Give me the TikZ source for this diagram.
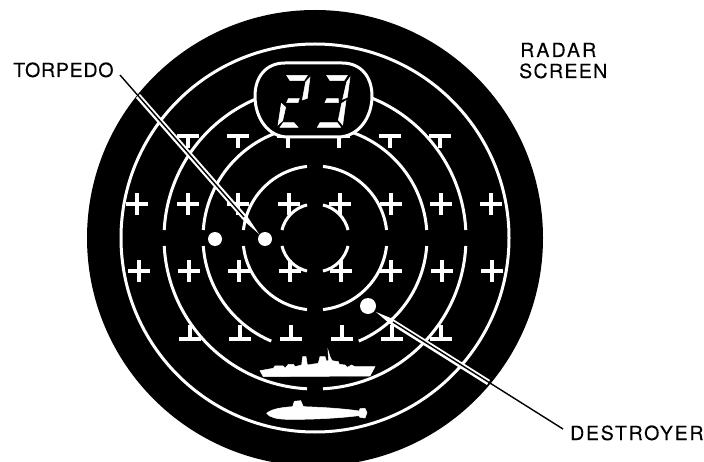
\documentclass[tikz,border=0pt]{standalone}
\usepackage{fontspec}
\setmainfont[FakeBold=0.12]{TeX Gyre Heros}
\tikzset{
  ring/.style={draw=white,line width=3pt},
  gridmark/.style={draw=white,line width=3.4pt},
  blip/.style={fill=white,draw=none},
  glyph/.style={fill=white,draw=white,line width=0.5pt},
  halo/.style={fill=white,draw=none},
  leader/.style={draw=black,line width=1.4pt},
  lbl/.style={inner sep=0pt,anchor=base west,text=black,font=\fontsize{19.5}{22}\selectfont}
}
\newcommand{\plusat}[2]{\draw[gridmark] (#1-11,#2)--(#1+11,#2) (#1,#2-11)--(#1,#2+11);}
\newcommand{\teeat}[2]{\draw[gridmark] (#1-11,#2)--(#1+11,#2) (#1,#2)--(#1,#2+12);}
\newcommand{\intee}[2]{\draw[gridmark] (#1-11,#2)--(#1+11,#2) (#1,#2)--(#1,#2-14);}
\newcommand{\ringarc}[3]{\draw[ring] (315,238) ++(#2:#1) arc[start angle=#2,end angle=#3,radius=#1];}
\begin{document}
\begin{tikzpicture}[x=1pt,y=-1pt]
\useasboundingbox (0,0) rectangle (704,462);
\begin{scope}
\clip (0,0) rectangle (704,462);
\fill[black] (315,238) circle (228);
\end{scope}
% outer ring
\draw[ring] (315,238) circle (194);
% split rings (y axis points down, so positive angles are the lower half)
\foreach \r in {151,72,34}{
  \pgfmathsetmacro{\a}{asin(8/\r)}
  \pgfmathsetmacro{\qa}{90-\a}
  \pgfmathsetmacro{\ra}{90+\a}
  \pgfmathsetmacro{\sa}{180-\a}
  \pgfmathsetmacro{\ta}{180+\a}
  \pgfmathsetmacro{\ua}{270-\a}
  \pgfmathsetmacro{\va}{270+\a}
  \pgfmathsetmacro{\wa}{360-\a}
  \ringarc{\r}{\a}{\qa}
  \ringarc{\r}{\ra}{\sa}
  \ringarc{\r}{\ta}{\ua}
  \ringarc{\r}{\va}{\wa}
}
% ring 112 has a wide lower gap for the ship
\ringarc{112}{4.1}{67}
\ringarc{112}{113}{175.9}
\ringarc{112}{184.1}{268}
\ringarc{112}{272}{355.9}
% marks
\foreach \x in {137,188,238,289,340,391,441,491}{\plusat{\x}{204}}
\foreach \x in {139,189,239,290,341,391,442,492}{\plusat{\x}{271}}
\foreach \x in {188,238,288,339,390,440}{\teeat{\x}{136}}
\foreach \x in {190,240,291,342,392,441}{\intee{\x}{339}}
% display
\draw[draw=white,line width=3pt,fill=black] (285,63) -- (342,63)
  .. controls (362,63) and (372,78) .. (372,96)
  .. controls (372,118) and (358,137) .. (338,137)
  -- (288,137)
  .. controls (268,137) and (255,118) .. (255,96)
  .. controls (255,78) and (265,63) .. (285,63) -- cycle;
% digits
\begin{scope}[shift={(270,70)},x=0.3333pt,y=-0.3333pt]
\fill[glyph] (50,16)--(112,16)--(102,32)--(60,32)--cycle;
\fill[glyph] (107,36)--(120,22)--(112,85)--(97,90)--cycle;
\fill[glyph] (55,86)--(88,86)--(84,98)--(50,98)--cycle;
\fill[glyph] (34,100)--(47,112)--(38,152)--(24,165)--cycle;
\fill[glyph] (40,158)--(72,158)--(84,172)--(30,172)--cycle;
\fill[glyph] (170,16)--(232,16)--(222,32)--(180,32)--cycle;
\fill[glyph] (230,36)--(240,22)--(232,82)--(218,88)--cycle;
\fill[glyph] (170,86)--(205,86)--(205,98)--(165,98)--cycle;
\fill[glyph] (215,100)--(228,92)--(218,165)--(205,150)--cycle;
\fill[glyph] (150,158)--(202,158)--(212,172)--(142,172)--cycle;
\end{scope}
% ship and submarine
\begin{scope}[shift={(230,330)},x=0.3333pt,y=-0.3333pt]
\filldraw[glyph] (90,122)--(130,115)--(135,108)--(160,108)--(165,115)--(175,103)--(190,103)--(195,110)--(215,105)--(218,80)--(228,80)--(232,105)--(265,100)--(270,80)--(285,80)--(290,95)--(296,90)--(294,60)--(300,80)--(306,92)--(325,95)--(328,103)--(345,105)--(352,112)--(365,105)--(375,110)--(435,110)--(420,138)--(100,140)--cycle;
\filldraw[glyph] (110,250) .. controls (125,236) and (160,232) .. (188,230)
  --(193,214)--(212,212)--(220,230)
  .. controls (280,232) and (340,236) .. (388,243)
  --(390,236)--(405,235)--(411,248)--(405,264)--(390,262)--(386,257)
  .. controls (330,264) and (250,269) .. (170,268)
  .. controls (140,267) and (118,262) .. (110,250) -- cycle;
\end{scope}
% blips
\fill[blip] (215,239) circle (7) (265,239) circle (7) (368,306) circle (8);
\coordinate (torpTail) at (120,75);
\coordinate (torpTip) at (259,234);
\coordinate (destTail) at (563,429);
\coordinate (destTip) at (376,312);
% leader lines with white halo inside the black disc
\fill[halo] (136,98) -- (140,94) -- (247,216) -- (torpTip) -- (243,220) -- cycle;
\draw[leader] (torpTail) -- (244,217);
\fill[halo] (487,385) -- (490,380) -- (393,319) -- (destTip) -- (390,324) -- cycle;
\draw[leader] (destTail) -- (393,322);
% labels
\node[lbl] (torpedo) at (13,77) {\addfontfeature{LetterSpace=4}TORPEDO};
\node[lbl] (radar) at (520,57) {\addfontfeature{LetterSpace=11}RADAR};
\node[lbl] (screen) at (519,78) {\addfontfeature{LetterSpace=7}SCREEN};
\node[lbl] (destroyer) at (570,440) {\addfontfeature{LetterSpace=9}DESTROYER};
\end{tikzpicture}
\end{document}
